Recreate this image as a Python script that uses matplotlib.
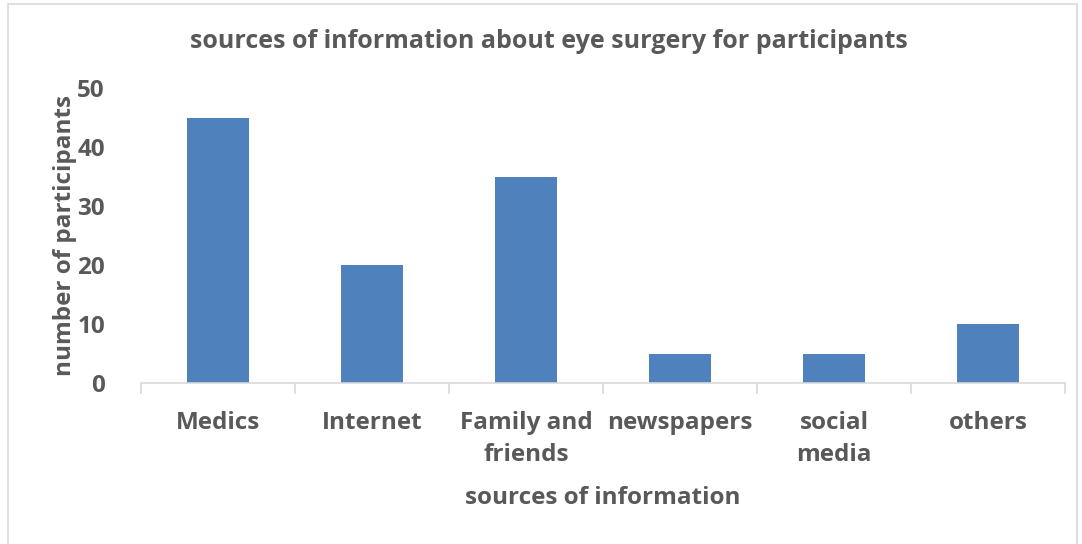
import matplotlib
matplotlib.use("Agg")
import matplotlib.pyplot as plt
from matplotlib.patches import Rectangle
import numpy as np

categories = ["Medics", "Internet", "Family and\nfriends", "newspapers", "social\nmedia", "others"]
values = [45, 20, 35, 5, 5, 10]
yticks = [0, 10, 20, 30, 40, 50]

plt.rcParams['font.family'] = ['Open Sans', 'DejaVu Sans']
txt = '#595959'
fs = 17.5

fig = plt.figure(figsize=(10.82, 5.44), dpi=100)
ax = fig.add_axes([141/1082, 1-383/544, (1065-141)/1082, (383-88)/544])

x = np.arange(len(categories))
ax.bar(x, values, width=0.4, color='#4F81BD', zorder=2)
ax.set_xlim(-0.5, len(categories)-0.5)
ax.set_ylim(0, 50)
ax.set_yticks(yticks)
ax.set_yticklabels([str(v) for v in yticks], fontsize=fs, fontweight='bold', color=txt)
ax.set_xticks(x)
ax.set_xticklabels(categories, fontsize=fs, fontweight='bold', color=txt, linespacing=1.45, va='top')
ax.tick_params(axis='x', length=0, pad=20)
ax.tick_params(axis='y', length=0, pad=26)
ax.set_xticks(np.arange(-0.5, len(categories), 1), minor=True)
ax.tick_params(axis='x', which='minor', length=8, color='#d9d9d9', width=1.2)
for s in ['top', 'right', 'left']:
    ax.spines[s].set_visible(False)
ax.spines['bottom'].set_color('#d9d9d9')
ax.spines['bottom'].set_linewidth(1.2)

ax.set_ylabel('number of participants', fontsize=fs, fontweight='bold', color=txt, labelpad=0)
ax.set_xlabel('sources of information', fontsize=fs, fontweight='bold', color=txt, labelpad=14)
fig.text(549/1082, 1-41/544, 'sources of information about eye surgery for participants',
         ha='center', va='center', fontsize=18, fontweight='bold', color=txt)

fig.patches.append(Rectangle((8/1082, -0.1), (1077-8)/1082, 1-4/544+0.1, transform=fig.transFigure,
                             fill=False, edgecolor='#d9d9d9', linewidth=1.2))
fig.savefig('out.png', dpi=100, facecolor='white')
